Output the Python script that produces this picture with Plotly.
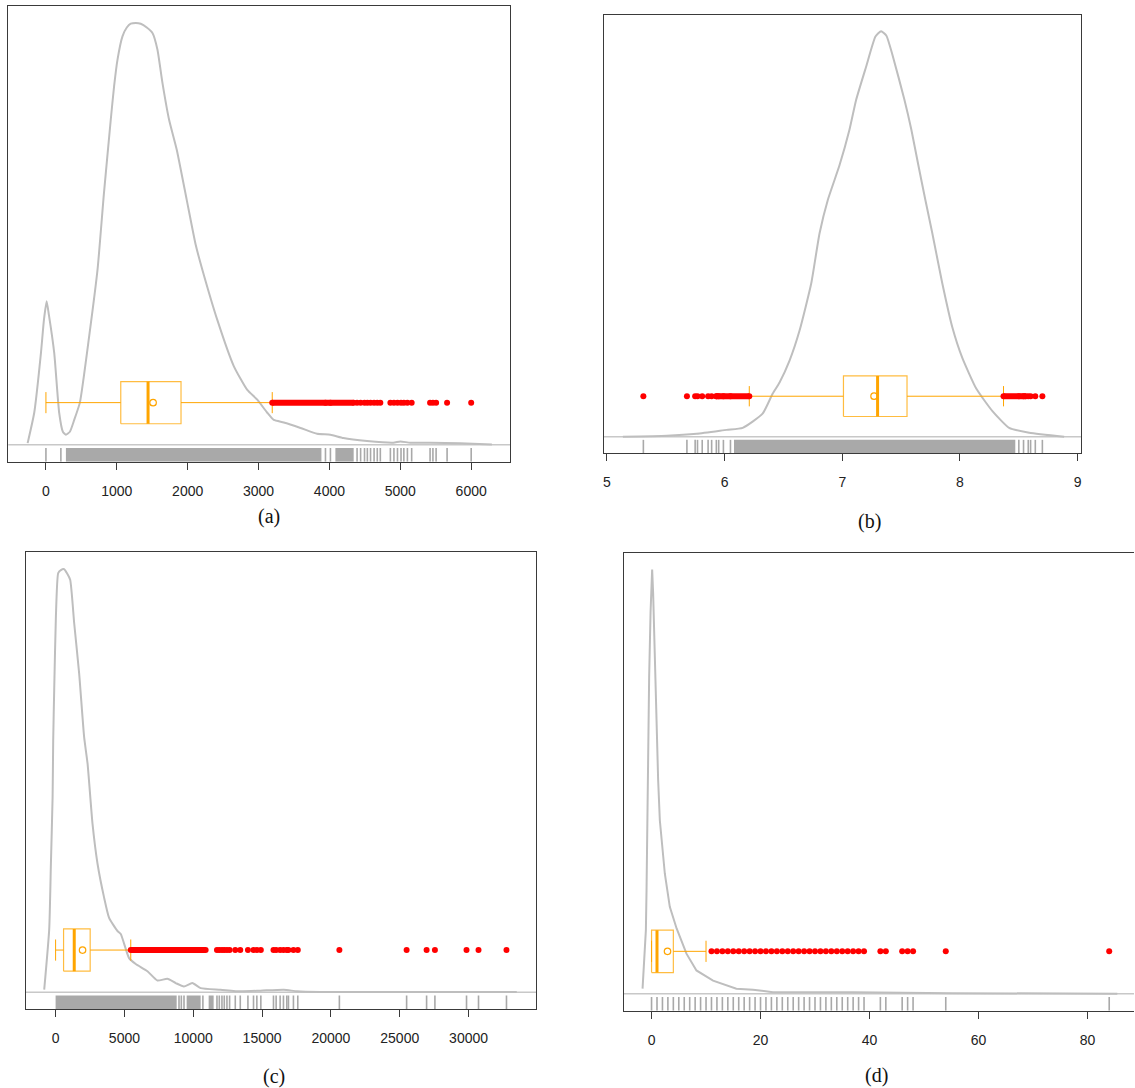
import plotly.graph_objects as go

# ---------------- Panel (a) ----------------
a_dens_x = [-258, -165, -70, -28, 10, 42, 117, 187, 239, 282, 338, 399, 479, 610, 728, 817, 915, 962, 1010, 1080,
            1141, 1197, 1268, 1338, 1423, 1503, 1573, 1644, 1737, 1845, 1986, 2113, 2207, 2418, 2652, 2841, 2982,
            3123, 3215, 3356, 3592, 3827, 4014, 4197, 4531, 4901, 5000, 5141, 5423, 5845, 6292]
a_dens_y = [0.004, 0.076, 0.218, 0.296, 0.340, 0.308, 0.218, 0.076, 0.031, 0.024, 0.031, 0.059, 0.100, 0.257, 0.415,
            0.593, 0.771, 0.850, 0.913, 0.968, 0.989, 0.998, 1.0, 0.998, 0.989, 0.976, 0.937, 0.858, 0.771, 0.700,
            0.581, 0.474, 0.415, 0.296, 0.186, 0.130, 0.107, 0.076, 0.059, 0.053, 0.040, 0.026, 0.024, 0.016, 0.009,
            0.005, 0.008, 0.005, 0.005, 0.004, 0.001]
a_box = dict(lo=0, q1=1056, med=1441, q3=1906, hi=3193, mean=1512)
a_rug_single = [0, 211, 3944, 4014, 4390, 4440, 4495, 4535, 4580, 4630, 4675, 4718, 4860, 4910, 4960, 5010, 5050,
                5100, 5160, 5420, 5460, 5505, 5660, 6000]
a_rug_dense = [(282, 3887), (4084, 4342)]
a_out_dense = [(3193, 4342)]
a_ticks = [0, 1000, 2000, 3000, 4000, 5000, 6000]

# ---------------- Panel (b) ----------------
b_dens_x = [5.136, 5.509, 5.763, 6.018, 6.154, 6.323, 6.408, 6.467, 6.552, 6.637, 6.736, 6.807, 6.877, 6.977, 7.061,
            7.118, 7.203, 7.282, 7.330, 7.375, 7.426, 7.528, 7.587, 7.646, 7.706, 7.765, 7.850, 7.935, 8.019, 8.138,
            8.274, 8.418, 8.588, 8.885]
b_dens_y = [0.0, 0.0025, 0.0074, 0.017, 0.022, 0.057, 0.106, 0.134, 0.188, 0.262, 0.378, 0.502, 0.584, 0.670, 0.757,
            0.831, 0.913, 0.987, 1.0, 0.989, 0.942, 0.831, 0.757, 0.670, 0.584, 0.502, 0.378, 0.270, 0.195, 0.119,
            0.064, 0.022, 0.010, 0.0]
b_box = dict(lo=6.21, q1=7.01, med=7.30, q3=7.55, hi=8.37, mean=7.27)
b_rug_single = [5.31, 5.68, 5.75, 5.77, 5.81, 5.86, 5.89, 5.93, 5.95, 5.99, 6.05, 8.50, 8.54, 8.58, 8.60, 8.64, 8.70]
b_rug_dense = [(6.08, 8.47)]
b_out_dense = [(5.93, 6.21), (8.37, 8.56)]
b_ticks = [5, 6, 7, 8, 9]

# ---------------- Panel (c) ----------------
c_dens_x = [-827, -464, -341, -218, -174, -102, 22, 189, 384, 624, 819, 1059, 1349, 1711, 2074, 2321, 2683, 3046,
            3524, 3887, 4496, 4735, 5337, 5823, 6671, 7397, 8122, 8724, 9326, 9935, 10537, 11987, 13437, 14888,
            16577, 17549, 19239, 33503]
c_dens_y = [0.0064, 0.149, 0.304, 0.461, 0.595, 0.714, 0.888, 0.991, 0.998, 1.0, 0.991, 0.975, 0.873, 0.754, 0.603,
            0.541, 0.398, 0.304, 0.224, 0.176, 0.145, 0.138, 0.081, 0.067, 0.050, 0.028, 0.032, 0.022, 0.014, 0.022,
            0.010, 0.0064, 0.0024, 0.004, 0.0064, 0.0024, 0.0007, 0.0007]
c_box = dict(lo=0, q1=579, med=1354, q3=2512, hi=5460, mean=1958)
c_rug_single = [8965, 9134, 9328, 10700, 11723, 11892, 12085, 12254, 12448, 12641, 13053, 13416, 13972, 14378,
                14620, 14910, 15828, 16021, 16311, 16553, 16795, 16916, 17278, 17594, 20615, 25500, 26951, 27555,
                29852, 30723, 32754]
c_rug_dense = [(0, 8796), (9521, 10537), (11118, 11481)]
c_out_dense = [(5460, 10900)]
c_ticks = [0, 5000, 10000, 15000, 20000, 25000, 30000]

# ---------------- Panel (d) ----------------
d_dens_x = [-1.65, -1.04, -0.92, -0.77, -0.62, -0.44, -0.18, 0.11, 0.29, 0.48, 0.73, 0.92, 1.03, 1.21, 1.52, 1.94,
            2.44, 3.35, 4.6, 6.41, 8.24, 11.29, 15.57, 18.62, 22.28, 27.78, 36.94, 55.26, 85.49]
d_dens_y = [0.012, 0.150, 0.244, 0.394, 0.598, 0.748, 0.901, 1.0, 0.945, 0.842, 0.748, 0.646, 0.567, 0.504, 0.409,
            0.346, 0.283, 0.205, 0.154, 0.0945, 0.055, 0.031, 0.012, 0.0094, 0.0038, 0.0038, 0.0038, 0.0014, 0.0]
d_box = dict(lo=0, q1=0, med=1, q3=4, hi=10, mean=2.93)
d_rug_single = [0, 1, 2, 3, 4, 5, 6, 7, 8, 9, 10, 11, 12, 13, 14, 15, 16, 17, 18, 19, 20, 21, 22, 23, 24, 25, 26,
                27, 28, 29, 30, 31, 32, 33, 34, 35, 36, 37, 38, 39, 42, 43, 46, 47, 48, 54, 84]
d_rug_dense = []
d_out_dense = []
d_ticks = [0, 20, 40, 60, 80]

captions = ["(a)", "(b)", "(c)", "(d)"]

# ---------------- layout geometry (pixels) ----------------
W, H = 1135, 1088
panels = [
    dict(dx=a_dens_x, dy=a_dens_y, box=a_box, rs=a_rug_single, rd=a_rug_dense, od=a_out_dense, ticks=a_ticks,
         xr=[-531, 6549], px=(7.3, 510), py=(6, 461.7), cap=(268, 516), right=True),
    dict(dx=b_dens_x, dy=b_dens_y, box=b_box, rs=b_rug_single, rd=b_rug_dense, od=b_out_dense, ticks=b_ticks,
         xr=[4.975, 9.029], px=(604, 1082), py=(15, 453), cap=(870, 521), right=True),
    dict(dx=c_dens_x, dy=c_dens_y, box=c_box, rs=c_rug_single, rd=c_rug_dense, od=c_out_dense, ticks=c_ticks,
         xr=[-2175, 34903], px=(24.7, 536), py=(552.3, 1009.3), cap=(273, 1076), right=True),
    dict(dx=d_dens_x, dy=d_dens_y, box=d_box, rs=d_rug_single, rd=d_rug_dense, od=d_out_dense, ticks=d_ticks,
         xr=[-5.13, 88.55], px=(623.7, 1135), py=(552.7, 1010.7), cap=(877, 1075), right=False),
]

YMIN, YMAX = -0.04, 1.04
RUG_TOP = -0.0076
BOX_Y, BOX_H, CAP_H = 0.1, 0.05, 0.025
ORANGE = "#FFA500"
BOXLINE = "rgba(255,165,0,0.75)"

fig = go.Figure()
layout = dict(width=W, height=H, margin=dict(l=0, r=0, t=0, b=0), paper_bgcolor="white",
              plot_bgcolor="white", showlegend=False, annotations=[], shapes=[])

for i, p in enumerate(panels):
    n = "" if i == 0 else str(i + 1)
    xa, ya = "x" + n, "y" + n
    # density
    smooth = i != 3
    fig.add_trace(go.Scatter(x=p["dx"], y=p["dy"], mode="lines", xaxis=xa, yaxis=ya, hoverinfo="skip",
                             line=dict(color="#BEBEBE", width=2, shape="spline" if smooth else "linear",
                                       smoothing=0.5)))
    # rug dense areas
    for (r0, r1) in p["rd"]:
        fig.add_trace(go.Scatter(x=[r0, r1, r1, r0, r0], y=[YMIN, YMIN, RUG_TOP, RUG_TOP, YMIN], mode="lines",
                                 fill="toself", fillcolor="#A9A9A9", line=dict(width=0, color="#A9A9A9"),
                                 xaxis=xa, yaxis=ya, hoverinfo="skip"))
    # rug single ticks
    rx, ry = [], []
    for v in p["rs"]:
        rx += [v, v, None]
        ry += [YMIN, RUG_TOP, None]
    fig.add_trace(go.Scatter(x=rx, y=ry, mode="lines", line=dict(color="#A9A9A9", width=1.6),
                             xaxis=xa, yaxis=ya, hoverinfo="skip"))
    b = p["box"]
    # whiskers
    fig.add_trace(go.Scatter(x=[b["lo"], b["q1"], None, b["q3"], b["hi"]],
                             y=[BOX_Y, BOX_Y, None, BOX_Y, BOX_Y], mode="lines",
                             line=dict(color=ORANGE, width=1), xaxis=xa, yaxis=ya, hoverinfo="skip"))
    # staples
    fig.add_trace(go.Scatter(x=[b["lo"], b["lo"], None, b["hi"], b["hi"]],
                             y=[BOX_Y - CAP_H, BOX_Y + CAP_H, None, BOX_Y - CAP_H, BOX_Y + CAP_H], mode="lines",
                             line=dict(color=ORANGE, width=1), xaxis=xa, yaxis=ya, hoverinfo="skip"))
    # box
    fig.add_trace(go.Scatter(x=[b["q1"], b["q3"], b["q3"], b["q1"], b["q1"]],
                             y=[BOX_Y - BOX_H, BOX_Y - BOX_H, BOX_Y + BOX_H, BOX_Y + BOX_H, BOX_Y - BOX_H],
                             mode="lines", line=dict(color=BOXLINE, width=1.2), xaxis=xa, yaxis=ya,
                             hoverinfo="skip"))
    # median
    fig.add_trace(go.Scatter(x=[b["med"], b["med"]], y=[BOX_Y - BOX_H, BOX_Y + BOX_H], mode="lines",
                             line=dict(color=ORANGE, width=3), xaxis=xa, yaxis=ya, hoverinfo="skip"))
    # mean
    fig.add_trace(go.Scatter(x=[b["mean"]], y=[BOX_Y], mode="markers",
                             marker=dict(symbol="circle-open", size=6.5, color=ORANGE, line=dict(width=1.2)),
                             xaxis=xa, yaxis=ya, hoverinfo="skip"))
    # outliers: dense bands
    for (o0, o1) in p["od"]:
        fig.add_trace(go.Scatter(x=[o0, o1], y=[BOX_Y, BOX_Y], mode="lines+markers",
                                 line=dict(color="#FF0000", width=6), marker=dict(color="#FF0000", size=6),
                                 xaxis=xa, yaxis=ya, hoverinfo="skip"))
    # outliers: single points (rug values beyond the whiskers)
    outs = [v for v in p["rs"] if v > b["hi"] or v < b["lo"]]
    fig.add_trace(go.Scatter(x=outs, y=[BOX_Y] * len(outs), mode="markers",
                             marker=dict(color="#FF0000", size=6), xaxis=xa, yaxis=ya, hoverinfo="skip"))

    # baseline
    layout["shapes"].append(dict(type="line", xref=xa + " domain", yref=ya, x0=0, x1=1, y0=0, y1=0,
                                 line=dict(color="#C8C8C8", width=1.5), layer="below"))

    x0, x1 = p["px"]
    y0, y1 = p["py"]
    layout["xaxis" + n] = dict(domain=[x0 / W, min(1.0, x1 / W)], range=p["xr"], anchor=ya,
                               showline=True, mirror=True, linecolor="#3a3a3a", linewidth=1,
                               ticks="outside", ticklen=7, tickcolor="#3a3a3a", tickwidth=1,
                               tickvals=p["ticks"], ticktext=[str(t) for t in p["ticks"]],
                               ticklabelstandoff=9,
                               tickfont=dict(family="Liberation Sans, Arial, sans-serif", size=14, color="#222"),
                               showgrid=False, zeroline=False, fixedrange=True)
    layout["yaxis" + n] = dict(domain=[1 - y1 / H, 1 - y0 / H], range=[YMIN, YMAX], anchor=xa,
                               showline=True, mirror=p["right"], linecolor="#3a3a3a", linewidth=1,
                               ticks="", showticklabels=False, showgrid=False, zeroline=False, fixedrange=True)
    cx, cy = p["cap"]
    layout["annotations"].append(dict(text=captions[i], x=cx / W, y=1 - cy / H, xref="paper", yref="paper",
                                      showarrow=False, xanchor="center", yanchor="middle",
                                      font=dict(family="Liberation Serif, DejaVu Serif, serif", size=20,
                                                color="#111")))

fig.update_layout(**layout)
fig.write_html("out.html")
